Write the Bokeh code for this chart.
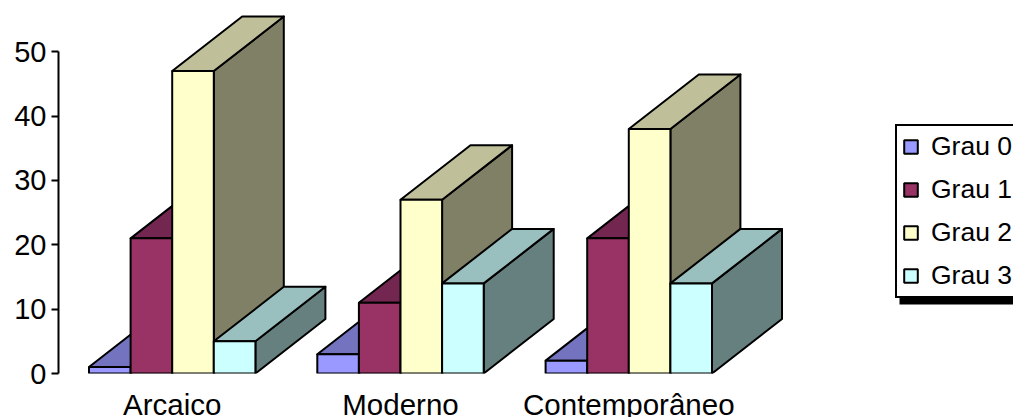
from bokeh.embed import file_html
from bokeh.models import BoxAnnotation, ColumnDataSource, FixedTicker, Legend, LegendItem, Range1d
from bokeh.plotting import figure
from bokeh.resources import INLINE

# Chart values
periods = ["Arcaico", "Moderno", "Contemporâneo"]
series_names = ["Grau 0", "Grau 1", "Grau 2", "Grau 3"]
grau_0 = [1, 3, 2]
grau_1 = [21, 11, 21]
grau_2 = [47, 27, 38]
grau_3 = [5, 14, 14]
series_values = [grau_0, grau_1, grau_2, grau_3]
y_ticks = [0, 10, 20, 30, 40, 50]

# Face colours: front, top (shaded) and side (darker)
front_colors = ["#9999FF", "#993366", "#FFFFCC", "#CCFFFF"]
top_colors = ["#7373BF", "#732650", "#BFBF99", "#99BFBF"]
side_colors = ["#4D4D80", "#4D1A33", "#808066", "#668080"]

FONT = "Liberation Sans"
PX_PER_GROUP = 228.3
PX_PER_UNIT = 6.435
BAR_W = 41.6 / PX_PER_GROUP
DEPTH_X = 70.0 / PX_PER_GROUP
DEPTH_Y = 54.5 / PX_PER_UNIT
LINE_W = 2.0

FRAME_W, FRAME_H = 955, 373
x_start = -(171.7 - 58.0) / PX_PER_GROUP

p = figure(
    width=1013,
    height=417,
    frame_width=FRAME_W,
    frame_height=FRAME_H,
    min_border_left=58,
    min_border_right=0,
    min_border_top=0,
    min_border_bottom=44,
    x_range=Range1d(x_start, x_start + FRAME_W / PX_PER_GROUP),
    y_range=Range1d(0, FRAME_H / PX_PER_UNIT),
    output_backend="svg",
    toolbar_location=None,
    tools="",
)
p.outline_line_color = None
p.grid.visible = False
p.background_fill_color = "white"
p.border_fill_color = "white"

# Vertical axis stops at the last tick
p.yaxis.ticker = FixedTicker(ticks=y_ticks)
p.yaxis.bounds = (0, 50)
p.yaxis.axis_line_color = "black"
p.yaxis.axis_line_width = 2
p.yaxis.major_tick_line_color = "black"
p.yaxis.major_tick_line_width = 2
p.yaxis.major_tick_in = 0
p.yaxis.major_tick_out = 7
p.yaxis.minor_tick_line_color = None
p.yaxis.major_label_text_font = FONT
p.yaxis.major_label_text_font_size = "29px"
p.yaxis.major_label_text_color = "black"
p.yaxis.major_label_standoff = 5

# Horizontal axis only carries the period names
p.xaxis.ticker = FixedTicker(ticks=list(range(len(periods))))
p.xaxis.major_label_overrides = {i: name for i, name in enumerate(periods)}
p.xaxis.axis_line_color = None
p.xaxis.major_tick_line_color = None
p.xaxis.minor_tick_line_color = None
p.xaxis.major_label_text_font = FONT
p.xaxis.major_label_text_font_size = "29.5px"
p.xaxis.major_label_text_color = "black"
p.xaxis.major_label_standoff = 8

legend_items = []
for s, values in enumerate(series_values):
    left = [g + (s - 2) * BAR_W for g in range(len(values))]
    right = [x + BAR_W for x in left]

    side = ColumnDataSource(dict(
        xs=[[r, r + DEPTH_X, r + DEPTH_X, r] for r in right],
        ys=[[0, DEPTH_Y, v + DEPTH_Y, v] for v in values],
    ))
    top = ColumnDataSource(dict(
        xs=[[l, l + DEPTH_X, r + DEPTH_X, r] for l, r in zip(left, right)],
        ys=[[v, v + DEPTH_Y, v + DEPTH_Y, v] for v in values],
    ))
    p.patches("xs", "ys", source=side, fill_color=side_colors[s],
              line_color="black", line_width=LINE_W, line_join="round")
    p.patches("xs", "ys", source=top, fill_color=top_colors[s],
              line_color="black", line_width=LINE_W, line_join="round")
    front = p.quad(left=left, right=right, bottom=0, top=values,
                   fill_color=front_colors[s], line_color="black", line_width=LINE_W)
    legend_items.append(LegendItem(label=series_names[s], renderers=[front]))

# Drop shadow under the legend box (offsets are measured from the plot frame)
p.add_layout(BoxAnnotation(
    left=841, right=955, top=77, bottom=69,
    left_units="screen", right_units="screen", top_units="screen", bottom_units="screen",
    fill_color="black", fill_alpha=1, line_color=None,
))

legend = Legend(
    items=legend_items,
    location=(837, 75),
    orientation="vertical",
    border_line_color="black",
    border_line_alpha=1,
    border_line_width=2,
    background_fill_color="white",
    background_fill_alpha=1,
    label_text_font=FONT,
    label_text_font_size="26.5px",
    label_text_color="black",
    glyph_width=17,
    glyph_height=17,
    label_standoff=12,
    spacing=12,
    padding=5,
    margin=0,
)
p.add_layout(legend, "center")

open("out.html", "w").write(file_html(p, INLINE))
